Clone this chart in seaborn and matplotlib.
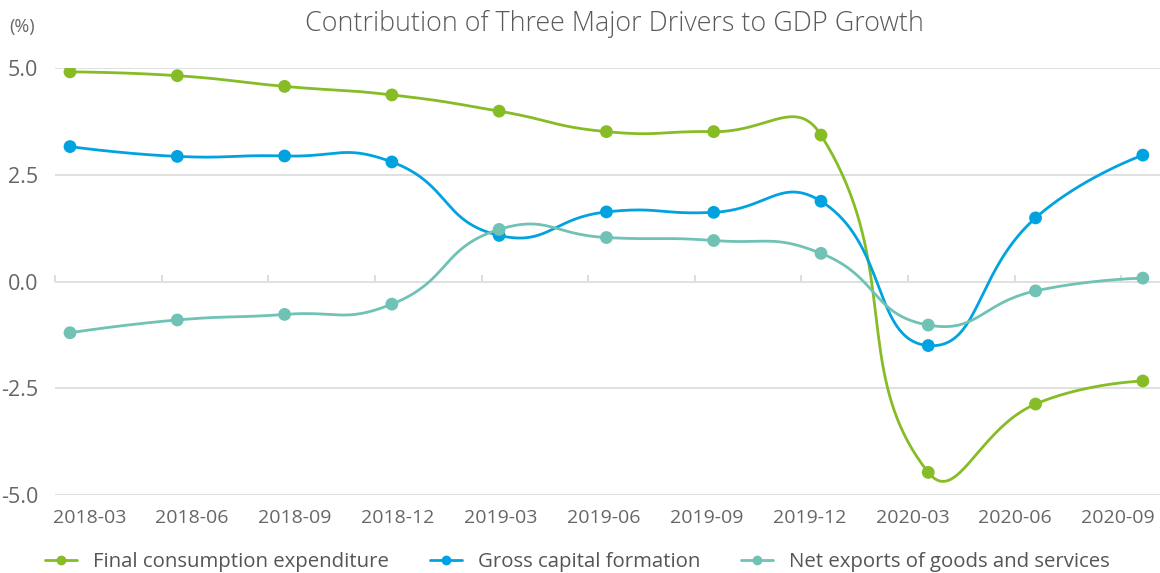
import numpy as np
import pandas as pd
import seaborn as sns
import matplotlib.pyplot as plt

# Quarterly contributions (percentage points)
quarters = ['2018-03', '2018-06', '2018-09', '2018-12', '2019-03', '2019-06',
            '2019-09', '2019-12', '2020-03', '2020-06', '2020-09']
consumption = [4.91, 4.82, 4.57, 4.37, 3.99, 3.51, 3.51, 3.43, -4.47, -2.87, -2.33]
capital = [3.16, 2.93, 2.94, 2.80, 1.08, 1.63, 1.62, 1.88, -1.50, 1.49, 2.96]
net_exports = [-1.20, -0.90, -0.77, -0.53, 1.22, 1.03, 0.96, 0.66, -1.02, -0.22, 0.08]

series_names = ['Final consumption expenditure', 'Gross capital formation',
                'Net exports of goods and services']
colors = ['#86bc25', '#00a3e0', '#6fc2b4']


def smooth_curve(ax, xs, ys, smooth=0.5, steps=40):
    # echarts-like smoothing (no constraint), done in display (pixel) space
    pts = ax.transData.transform(np.column_stack([xs, ys]))
    n = len(pts)
    out = [pts[0]]
    cp0 = pts[0].copy()
    t = np.linspace(0, 1, steps)[1:, None]
    for i in range(1, n):
        p = pts[i]
        if i == n - 1:
            cp1 = p.copy()
            v = np.zeros(2)
            r = 0.5
        else:
            prev, nxt = pts[i - 1], pts[i + 1]
            v = nxt - prev
            lp = np.linalg.norm(p - prev)
            ln = np.linalg.norm(nxt - p)
            r = ln / (ln + lp)
            cp1 = p - v * smooth * (1 - r)
        p0 = pts[i - 1]
        seg = (1 - t) ** 3 * p0 + 3 * (1 - t) ** 2 * t * cp0 + 3 * (1 - t) * t ** 2 * cp1 + t ** 3 * p
        out.extend(seg)
        cp0 = p + v * smooth * r
    out = ax.transData.inverted().transform(np.array(out))
    return out[:, 0], out[:, 1]


sns.set_theme(style='white')
plt.rcParams['font.family'] = ['Open Sans', 'DejaVu Sans']

fig = plt.figure(figsize=(11.6, 5.73), dpi=100)
ax = fig.add_axes([0.0474, 0.1361, 0.9526, 0.7452])
ax.set_xlim(-0.14, 10.16)
ax.set_ylim(-5, 5)

idx = list(range(len(quarters)))
for name, vals, col in zip(series_names, [consumption, capital, net_exports], colors):
    cx, cy = smooth_curve(ax, idx, vals)
    sns.lineplot(x=cx, y=cy, sort=False, estimator=None, color=col, lw=2.0, ax=ax)
    df = pd.DataFrame({'x': idx, 'y': vals})
    sns.scatterplot(data=df, x='x', y='y', color=col, s=85, edgecolor='none', ax=ax, zorder=3)

ax.set_xlim(-0.14, 10.16)
ax.set_ylim(-5, 5)
ax.set_yticks([-5, -2.5, 0, 2.5, 5])
ax.set_yticklabels(['-5.0', '-2.5', '0.0', '2.5', '5.0'])
ax.yaxis.grid(True, color='#e0e0e0', lw=1.4)
ax.xaxis.grid(False)
for s in ax.spines.values():
    s.set_visible(False)

ax.set_xticks(np.linspace(0.18, 9.77, 11))
ax.set_xticklabels(quarters)
ax.tick_params(axis='x', length=0, pad=10, labelsize=14, labelcolor='#666666')
ax.tick_params(axis='y', length=0, pad=12, labelsize=15.5, labelcolor='#666666')
ax.set_xlabel('')
ax.set_ylabel('')

# small tick marks sitting on the zero line
sec = ax.secondary_xaxis(0.5)
sec.set_xticks(np.linspace(-0.14, 9.80, 11))
sec.tick_params(axis='x', direction='out', length=5, width=1.2, color='#d6d6d6', labelbottom=False, labeltop=False)
sec.spines['bottom'].set_visible(False)
sec.spines['top'].set_visible(False)

fig.text(0.53, 0.958, 'Contribution of Three Major Drivers to GDP Growth', ha='center', va='center',
         fontsize=19.4, color='#5a5a5a', fontweight='light')
fig.text(0.008, 0.953, '(%)', ha='left', va='center', fontsize=13, color='#666666')

handles = [plt.Line2D([], [], color=c, lw=2.0, marker='o', markersize=6) for c in colors]
fig.legend(handles, series_names, loc='center', bbox_to_anchor=(0.498, 0.019), ncol=3,
           frameon=False, fontsize=14.7, labelcolor='#555555', handlelength=1.55,
           handletextpad=0.8, columnspacing=2.0)

fig.savefig('out.png', dpi=100)
